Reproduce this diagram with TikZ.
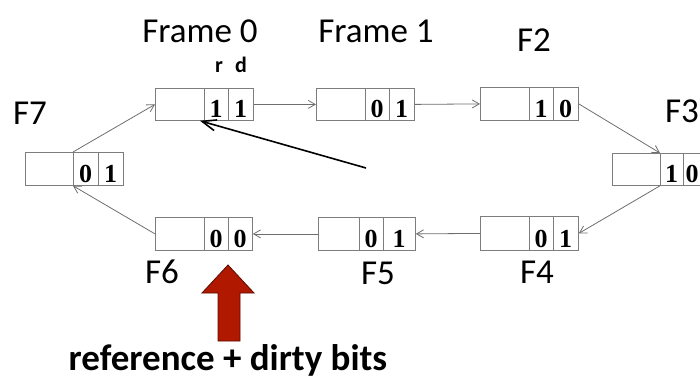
\documentclass[tikz,border=0pt]{standalone}
\usepackage{fontspec}
\usetikzlibrary{arrows.meta}
\newfontfamily\labfont{Carlito}
\newfontfamily\digfont{Liberation Serif}
\definecolor{boxgray}{RGB}{125,125,125}
\definecolor{linegray}{RGB}{110,110,110}
\definecolor{arrowred}{RGB}{176,24,0}
\definecolor{arrowedge}{RGB}{90,12,0}
\tikzset{
  frame/.style={draw=boxgray, line width=0.8pt, inner sep=0pt, anchor=north west},
  divider/.style={draw=boxgray, line width=0.8pt},
  bit/.style={font=\digfont\bfseries\fontsize{26}{26}\selectfont, inner sep=0pt, anchor=base},
  lab/.style={font=\labfont\fontsize{35}{35}\selectfont, inner sep=0pt, anchor=base},
  rdlab/.style={font=\labfont\bfseries\fontsize{22}{22}\selectfont, inner sep=0pt, anchor=base},
  caption/.style={font=\labfont\bfseries\fontsize{37}{37}\selectfont, inner sep=0pt, anchor=base},
  link/.style={draw=linegray, line width=0.8pt, -{Straight Barb[length=7pt,width=8pt]}},
  pointer/.style={draw=black, line width=1.6pt, -{Straight Barb[length=14pt,width=11pt]}},
  bigarrow/.style={fill=arrowred, draw=arrowedge, line width=0.8pt},
}
% name, x, y, width, height, divider1, divider2, bit1, bit2
\newcommand\frameblock[9]{%
  \node[frame, minimum width=#4pt, minimum height=#5pt] (#1) at (#2,#3) {};
  \draw[divider] ([xshift=#6pt]#1.north west) -- ([xshift=#6pt]#1.south west);
  \draw[divider] ([xshift=#7pt]#1.north west) -- ([xshift=#7pt]#1.south west);
  \coordinate (#1-top) at ([xshift=#6pt]#1.north west);
  \coordinate (#1-bot) at ([xshift=#6pt]#1.south west);
  \pgfmathsetmacro\bitA{(#6+#7)/2}%
  \pgfmathsetmacro\bitB{min((#7+#4)/2,692-#2)}%
  \node[bit] (#1-b1) at ([xshift=\bitA pt, yshift=3pt]#1.south west) {#8};
  \node[bit] (#1-b2) at ([xshift=\bitB pt, yshift=3pt]#1.south west) {#9};
}
\begin{document}
\begin{tikzpicture}[x=1pt,y=-1pt]
\useasboundingbox (0,0) rectangle (700,379);
\clip (0,0) rectangle (700,379);

\frameblock{f0}{155}{88}{98}{32}{49}{73}{1}{1}
\frameblock{f1}{316}{88}{98}{32}{49}{73}{0}{1}
\frameblock{f2}{480}{87}{98}{33}{49}{73}{1}{0}
\frameblock{f3}{612}{153}{98}{32}{48}{71}{1}{0}
\frameblock{f4}{480}{216}{98}{34}{49}{73}{0}{1}
\frameblock{f5}{318}{217}{97}{33}{41}{65}{0}{1}
\frameblock{f6}{155}{217}{97}{33}{49}{73}{0}{0}
\frameblock{f7}{25}{152}{98}{33}{48}{73}{0}{1}

\node[lab] (l0) at (200,43) {Frame 0};
\node[lab] (l1) at (376,43) {Frame 1};
\node[lab] (l2) at (534,52) {F2};
\node[lab] (l3) at (682,123) {F3};
\node[lab] (l4) at (537,283) {F4};
\node[lab] (l5) at (378,284) {F5};
\node[lab] (l6) at (162,283) {F6};
\node[lab] (l7) at (30,125) {F7};

\node[rdlab] (lr) at (219,73) {r};
\node[rdlab] (ld) at (241,73) {d};

\draw[link] (f0.east) -- (f1.west);
\draw[link] (f1.east) -- (f2.west);
\draw[link] (f2.east) -- (f3-top);
\draw[link] (f3-bot) -- (f4.east);
\draw[link] (f4.west) -- (f5.east);
\draw[link] (f5.west) -- (f6.east);
\draw[link] (f6.west) -- (f7-bot);
\draw[link] (f7-top) -- (f0.west);

\coordinate (ptr) at (366,168);
\draw[pointer] (ptr) -- ([xshift=45pt]f0.south west);

\draw[bigarrow] (218,341) -- (218,293) -- (202,293) -- (228,265) -- (254,293) -- (240,293) -- (240,341) -- cycle;
\node[caption] (cap) at (228,370) {reference + dirty bits};
\end{tikzpicture}
\end{document}
